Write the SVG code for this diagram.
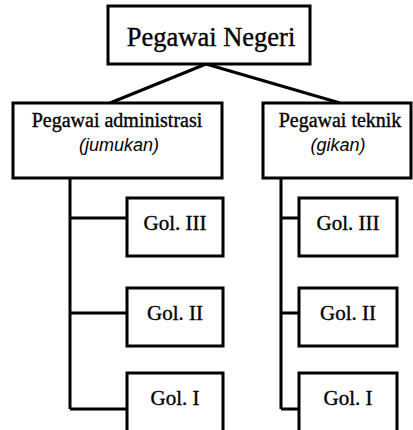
<svg xmlns="http://www.w3.org/2000/svg" width="413" height="430" viewBox="0 0 413 430">
<style>
.box{fill:#fff;stroke:#000;stroke-width:3}
.ln{fill:none;stroke:#000;stroke-width:3}
.t{font-family:"Liberation Serif","Times New Roman",serif;fill:#000;text-anchor:middle;stroke:#000;stroke-width:0.35}
.s{font-family:"Liberation Sans",Arial,sans-serif;font-style:italic;fill:#000;text-anchor:middle;font-size:18px}
</style>
<rect width="413" height="430" fill="#fff"/>
<g id="connectors">
<path class="ln" d="M206,64 L110,103 M206,64 L340,103"/>
<path class="ln" d="M70,178 V409 M70,218 H127 M70,313 H127 M70,409 H127"/>
<path class="ln" d="M281,178 V409 M281,218 H299 M281,313 H299 M281,409 H299"/>
</g>
<g id="root">
<rect class="box" x="108" y="6" width="202" height="58"/>
<text class="t" x="211" y="46" font-size="26.5">Pegawai Negeri</text>
</g>
<g id="admin">
<rect class="box" x="13" y="103" width="209" height="75"/>
<text class="t" x="117" y="127" font-size="20">Pegawai administrasi</text>
<text class="s" x="119" y="151">(jumukan)</text>
</g>
<g id="teknik">
<rect class="box" x="263" y="103" width="148" height="75"/>
<text class="t" x="340" y="127" font-size="20">Pegawai teknik</text>
<text class="s" x="338" y="151">(gikan)</text>
</g>
<g id="a3"><rect class="box" x="127" y="198" width="96" height="58"/><text class="t" x="175" y="230" font-size="21">Gol. III</text></g>
<g id="a2"><rect class="box" x="127" y="288" width="96" height="58"/><text class="t" x="175" y="320" font-size="21">Gol. II</text></g>
<g id="a1"><rect class="box" x="127" y="373" width="96" height="62"/><text class="t" x="175" y="405" font-size="21">Gol. I</text></g>
<g id="t3"><rect class="box" x="299" y="198" width="98" height="58"/><text class="t" x="348" y="230" font-size="21">Gol. III</text></g>
<g id="t2"><rect class="box" x="299" y="288" width="98" height="58"/><text class="t" x="348" y="320" font-size="21">Gol. II</text></g>
<g id="t1"><rect class="box" x="299" y="373" width="98" height="62"/><text class="t" x="348" y="405" font-size="21">Gol. I</text></g>
</svg>
